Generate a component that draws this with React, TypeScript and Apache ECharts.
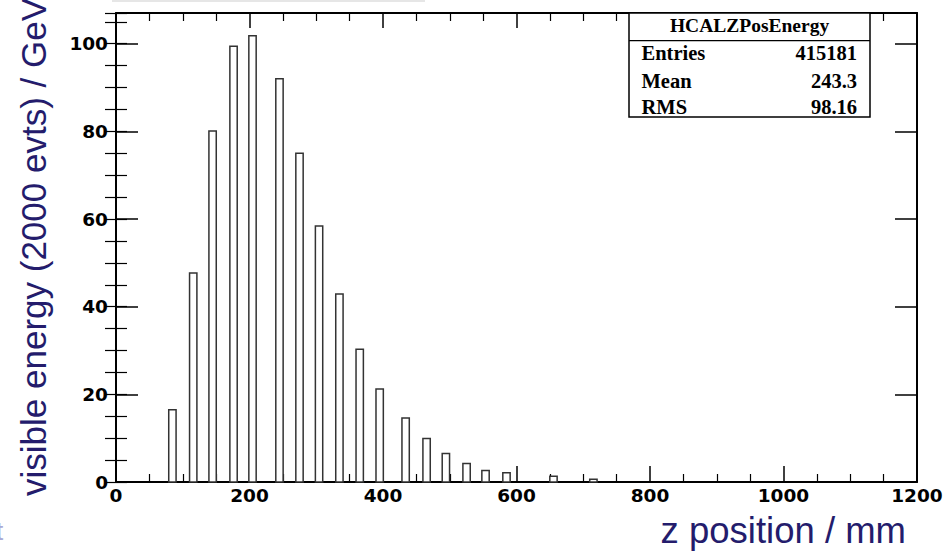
import React, { useEffect, useRef } from "react";
import * as echarts from "echarts";

// bin centres (z position / mm) and visible energy per bin (GeV)
const binCenters = [84.5, 115.7, 144.7, 176.1, 204.5, 244.9, 274.9, 304.2, 334.7, 365.1, 395.0, 433.9, 465.3, 494.2, 525.2, 553.6, 585.0, 655.4, 715.2];
const binValues = [16.5, 47.7, 80.1, 99.4, 101.8, 92.0, 75.0, 58.4, 42.9, 30.3, 21.2, 14.6, 9.9, 6.5, 4.2, 2.6, 2.1, 1.3, 0.6];

const statsTitle = "HCALZPosEnergy";
const statsLabels = ["Entries", "Mean", "RMS"];
const statsValues = ["415181", "243.3", "98.16"];

const xTitle = "z position / mm";
const yTitle = "visible energy (2000 evts) / GeV";

const X_MIN = 0, X_MAX = 1200, X_MAJOR = 200;
const Y_MIN = 0, Y_MAX = 107, Y_MAJOR = 20, Y_MINOR = 5;
const BIN_HALF = 5.5;

export default function App() {
  const ref = useRef<HTMLDivElement>(null);
  useEffect(() => {
    if (!ref.current) return;
    const chart = echarts.init(ref.current, null, { renderer: "svg" });
    const navy = "#241c6c";
    const tickFont = { fontFamily: "DejaVu Sans", fontWeight: "bold" as const, fontSize: 18.5, color: "#000" };
    const axisLine = { show: true, onZero: false, lineStyle: { color: "#000", width: 2 } };
    const xAxisBase = (pos: "top" | "bottom", major: number, minor: number, labels: boolean) => ({
      type: "value",
      position: pos,
      min: X_MIN,
      max: X_MAX,
      interval: X_MAJOR,
      axisLine,
      axisTick: { show: true, inside: true, length: major, lineStyle: { color: "#000", width: 1.5 } },
      minorTick: { show: true, splitNumber: 4, length: minor, lineStyle: { color: "#000", width: 1.2 } },
      splitLine: { show: false },
      minorSplitLine: { show: false },
      axisLabel: labels ? { ...tickFont, margin: 4, formatter: (v: number) => String(v) } : { show: false },
    });
    const yAxisBase = (pos: "left" | "right", interval: number, len: number, labels: boolean, line: boolean) => ({
      type: "value",
      position: pos,
      min: Y_MIN,
      max: Y_MAX,
      interval,
      axisLine: line ? axisLine : { show: false },
      axisTick: { show: true, inside: true, length: len, lineStyle: { color: "#000", width: interval === Y_MAJOR ? 1.5 : 1.2 } },
      splitLine: { show: false },
      axisLabel: labels ? { ...tickFont, margin: 8, showMaxLabel: false, formatter: (v: number) => (v % Y_MAJOR === 0 ? String(v) : "") } : { show: false },
    });

    const boxL = 629, boxR = 870, boxT = 13, boxB = 117, divY = 40.7;
    const rowY = [53.3, 80.5, 106.7];
    const serif = "Liberation Serif";

    const graphics: any[] = [
      { type: "rect", shape: { x: 112, y: 0, width: 313, height: 2 }, style: { fill: "#e6e6e6" }, silent: true },
      {
        type: "text",
        x: 33,
        y: 496,
        rotation: Math.PI / 2,
        style: { text: yTitle, fontFamily: "Liberation Sans", fontSize: 35, fill: navy, align: "left", verticalAlign: "middle" },
      },
      {
        type: "text",
        x: 906,
        y: 530,
        style: { text: xTitle, fontFamily: "Liberation Sans", fontSize: 36.5, fill: navy, align: "right", verticalAlign: "middle" },
      },
      {
        type: "text",
        x: -4,
        y: 531,
        style: { text: "t", fontFamily: "Liberation Sans", fontSize: 26, fill: "#a9a9d6", align: "left", verticalAlign: "middle" },
      },
      { type: "rect", shape: { x: boxL, y: boxT, width: boxR - boxL, height: boxB - boxT }, style: { fill: "#fff", stroke: "#000", lineWidth: 1.5 }, z: 10 },
      { type: "line", shape: { x1: boxL, y1: divY, x2: boxR, y2: divY }, style: { stroke: "#000", lineWidth: 1.2 }, z: 11 },
      {
        type: "text",
        x: (boxL + boxR) / 2,
        y: 25,
        z: 11,
        style: { text: statsTitle, fontFamily: serif, fontWeight: "bold", fontSize: 19.5, fill: "#000", align: "center", verticalAlign: "middle" },
      },
    ];
    statsLabels.forEach((lab, i) => {
      graphics.push({
        type: "text",
        x: 641.5,
        y: rowY[i],
        z: 11,
        style: { text: lab, fontFamily: serif, fontWeight: "bold", fontSize: 20.5, fill: "#000", align: "left", verticalAlign: "middle" },
      });
      graphics.push({
        type: "text",
        x: 857,
        y: rowY[i],
        z: 11,
        style: { text: statsValues[i], fontFamily: serif, fontWeight: "bold", fontSize: 20.5, fill: "#000", align: "right", verticalAlign: "middle" },
      });
    });

    chart.setOption({
      animation: false,
      backgroundColor: "#fff",
      grid: { left: 116, right: 29, top: 13, bottom: 70, containLabel: false, outerBoundsMode: "none" },
      xAxis: [xAxisBase("bottom", 16, 8, true), xAxisBase("top", 15, 8, false)],
      yAxis: [
        yAxisBase("left", Y_MAJOR, 22, true, true),
        yAxisBase("left", Y_MINOR, 11, false, false),
        yAxisBase("right", Y_MAJOR, 22, false, true),
        yAxisBase("right", Y_MINOR, 11, false, false),
      ],
      series: [
        {
          type: "custom",
          xAxisIndex: 0,
          yAxisIndex: 0,
          data: binCenters.map((c, i) => [c, binValues[i]]),
          renderItem: (_p: any, api: any) => {
            const c = api.value(0);
            const v = api.value(1);
            const p0 = api.coord([c - BIN_HALF, v]);
            const p1 = api.coord([c + BIN_HALF, 0]);
            return {
              type: "rect",
              shape: { x: p0[0], y: p0[1], width: p1[0] - p0[0], height: p1[1] - p0[1] },
              style: { fill: "#fff", stroke: "#333", lineWidth: 1.5 },
            };
          },
        },
      ],
      graphic: graphics,
    });
    return () => chart.dispose();
  }, []);
  return <div ref={ref} style={{ position: "fixed", left: 0, top: 0, width: 946, height: 552, background: "#fff" }} />;
}
